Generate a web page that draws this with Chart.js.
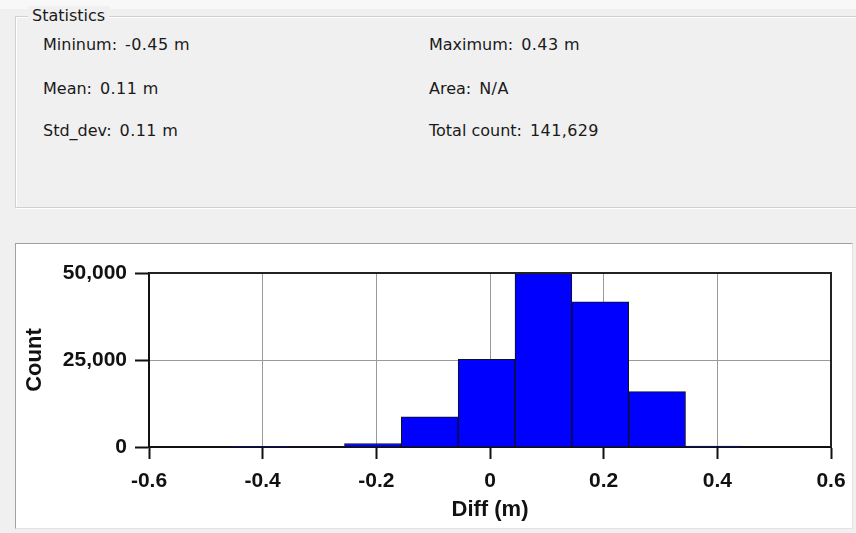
<!DOCTYPE html>
<html>
<head>
<meta charset="utf-8">
<script src="https://cdn.jsdelivr.net/npm/chart.js@4/dist/chart.umd.min.js"></script>
<style>
  html, body { margin: 0; padding: 0; }
  body { width: 856px; height: 533px; background: #f0f0f0; position: relative; overflow: hidden;
         font-family: "DejaVu Sans", "Noto Sans", sans-serif; color: #1a1a1a; }
  .topband { position: absolute; left: 0; top: 0; width: 856px; height: 9px; background: #f8f8f8; }
  .group { position: absolute; left: 15px; top: 16px; width: 850px; height: 190px;
           border: 1px solid #d0d0d0; box-shadow: inset 1px 1px 0 #ffffff, 1px 1px 0 #ffffff; }
  .legend { position: absolute; left: 28px; top: 6px; padding: 0 4px; background: #f0f0f0;
            font-size: 16px; line-height: 20px; }
  .stat { position: absolute; font-size: 16px; line-height: 20px; white-space: nowrap; }
  .stat .v { margin-left: 8px; letter-spacing: 0.4px; }
  .panel { position: absolute; left: 15px; top: 243px; width: 836px; height: 284px; background: #ffffff;
           border-top: 1px solid #a0a0a0; border-left: 1px solid #a0a0a0;
           border-right: 1px solid #e4e4e4; border-bottom: 1px solid #e4e4e4; }
  #chart { position: absolute; left: 0; top: 0; }
</style>
</head>
<body>
<div class="topband"></div>
<div class="group"></div>
<div class="legend" id="legend">Statistics</div>
<div class="panel"></div>
<div id="stats"></div>
<canvas id="chart" width="856" height="533"></canvas>
<script>
// Summary values shown in the Statistics box
const statLabels = ["Mininum:", "Mean:", "Std_dev:", "Maximum:", "Area:", "Total count:"];
const statValues = ["-0.45 m", "0.11 m", "0.11 m", "0.43 m", "N/A", "141,629"];

// Histogram bins of Diff (m): bin centres (bins 0.1 m wide) and counts
const binCenters = [-0.406, -0.306, -0.206, -0.106, -0.006, 0.094, 0.194, 0.294, 0.394];
const binCounts  = [100, 150, 1000, 8700, 25200, 49800, 41700, 15900, 300];

// Axis tick values and their labels
const xTickValues = [-0.6, -0.4, -0.2, 0, 0.2, 0.4, 0.6];
const xTickLabels = ["-0.6", "-0.4", "-0.2", "0", "0.2", "0.4", "0.6"];
const yTickValues = [0, 25000, 50000];
const yTickLabels = ["0", "25,000", "50,000"];

// Statistics text, two columns of three rows
const statsEl = document.getElementById("stats");
const statPos = [[43, 35], [43, 79], [43, 121], [429, 35], [429, 79], [429, 121]];
statLabels.forEach((lab, i) => {
  const d = document.createElement("div");
  d.className = "stat";
  d.style.left = statPos[i][0] + "px";
  d.style.top = statPos[i][1] + "px";
  const l = document.createElement("span");
  l.textContent = lab;
  const v = document.createElement("span");
  v.className = "v";
  v.textContent = statValues[i];
  d.appendChild(l);
  d.appendChild(v);
  statsEl.appendChild(d);
});

// Frame on the top and right of the plot area
const frame = {
  id: "frame",
  afterDatasetsDraw(chart) {
    const { ctx, chartArea: a } = chart;
    ctx.save();
    ctx.strokeStyle = "#222";
    ctx.lineWidth = 2;
    ctx.beginPath();
    ctx.moveTo(a.left, a.top);
    ctx.lineTo(a.right, a.top);
    ctx.lineTo(a.right, a.bottom);
    ctx.stroke();
    ctx.restore();
  }
};

const tickFont = { family: "'Liberation Sans', Arial, sans-serif", size: 21, weight: "bold" };
const titleFont = { family: "'Liberation Sans', Arial, sans-serif", size: 22, weight: "bold" };

new Chart(document.getElementById("chart"), {
  type: "bar",
  data: {
    datasets: [{
      data: binCenters.map((x, i) => ({ x: x, y: binCounts[i] })),
      backgroundColor: "#0000ff",
      borderColor: "#111111",
      borderWidth: 1,
      barPercentage: 1.0,
      categoryPercentage: 1.0
    }]
  },
  options: {
    responsive: false,
    animation: false,
    layout: { padding: { left: 0, top: 273, right: 25, bottom: 0 } },
    plugins: { legend: { display: false }, tooltip: { enabled: false } },
    scales: {
      x: {
        type: "linear",
        offset: false,
        min: -0.6, max: 0.6,
        afterBuildTicks(scale) { scale.ticks = xTickValues.map(v => ({ value: v })); },
        afterFit(scale) { scale.height = 86; },
        ticks: {
          color: "#111",
          font: tickFont,
          padding: 10,
          maxRotation: 0,
          callback: (v, i) => xTickLabels[i]
        },
        grid: { offset: false, color: "#9a9a9a", lineWidth: 1, tickLength: 12, tickColor: "#111", tickWidth: 2 },
        border: { color: "#111", width: 2 },
        title: { display: true, text: "Diff (m)", color: "#111", font: titleFont, padding: { top: 0, bottom: 10 } }
      },
      y: {
        min: 0, max: 50000,
        afterBuildTicks(scale) { scale.ticks = yTickValues.map(v => ({ value: v })); },
        afterFit(scale) { scale.width = 149; },
        ticks: {
          color: "#111",
          font: tickFont,
          padding: 8,
          callback: (v, i) => yTickLabels[i]
        },
        grid: { color: "#9a9a9a", lineWidth: 1, tickLength: 14, tickColor: "#111", tickWidth: 2 },
        border: { color: "#111", width: 2 },
        title: { display: true, text: "Count", color: "#111", font: titleFont, padding: { top: 22, bottom: 0 } }
      }
    }
  },
  plugins: [frame]
});
</script>
</body>
</html>
